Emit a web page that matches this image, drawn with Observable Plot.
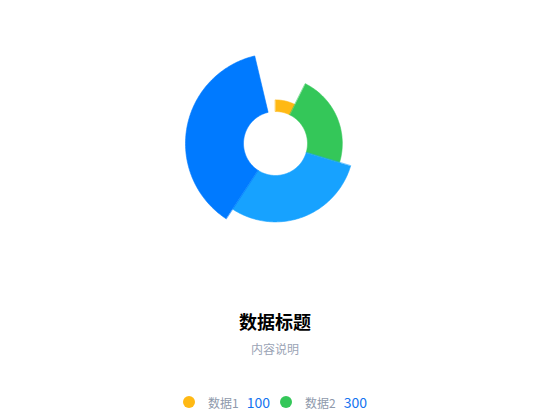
<!DOCTYPE html>
<html><head><meta charset="utf-8">
<script src="https://cdn.jsdelivr.net/npm/d3@7"></script>
<script src="https://cdn.jsdelivr.net/npm/@observablehq/plot@0.6"></script>
<style>
  html, body { margin: 0; padding: 0; background: #fff; }
  body { width: 550px; font-family: "Noto Sans CJK SC", "Noto Sans", sans-serif; }
  #chart svg { display: block; }
  .title { margin-top: 19px; text-align: center; font-size: 18px; line-height: 24px; font-weight: 700; color: #000; }
  .sub { margin-top: 8px; text-align: center; font-size: 12px; line-height: 16px; color: #9AA3B5; }
  #legend { margin-top: 35px; width: 550px; }
  .row { display: flex; width: 550px; justify-content: center; height: 20px; align-items: center; }
  .row.hidden { display: none; }
  .item { display: flex; align-items: center; margin: 0 5px; }
  .dot { width: 12px; height: 12px; border-radius: 50%; margin-right: 13px; }
  .lab { font-size: 12px; color: #8E99AB; margin-right: 8px; }
  .val { font-size: 14px; color: #1473F0; }
</style>
</head><body>
<div id="chart"></div>
<div class="title">数据标题</div>
<div class="sub">内容说明</div>
<div id="legend"></div>
<script>
const names = ["数据1", "数据2", "数据3", "数据4", "数据5"];
const values = [100, 300, 400, 500, 50];
const colors = ["#FFB914", "#34C759", "#17A2FF", "#007AFF", "none"];

const innerR = 32, outerR = 90;
const total = d3.sum(values);
const rScale = d3.scaleLinear([0, d3.max(values)], [innerR, outerR]);

const pts = [];
let acc = 0;
values.forEach((v, i) => {
  const a0 = acc / total * 2 * Math.PI;
  acc += v;
  const a1 = acc / total * 2 * Math.PI;
  if (colors[i] === "none") return;
  const r = rScale(v);
  const n = Math.max(2, Math.ceil((a1 - a0) * 180 / Math.PI));
  for (let k = 0; k <= n; k++) {
    const a = a0 + (a1 - a0) * k / n;
    pts.push({name: names[i], x: r * Math.sin(a), y: r * Math.cos(a)});
  }
  for (let k = n; k >= 0; k--) {
    const a = a0 + (a1 - a0) * k / n;
    pts.push({name: names[i], x: innerR * Math.sin(a), y: innerR * Math.cos(a)});
  }
});

const chart = Plot.plot({
  width: 550, height: 290, margin: 0,
  x: {domain: [-275, 275], axis: null},
  y: {domain: [-147, 143], axis: null},
  color: {domain: names, range: colors},
  marks: [
    Plot.line(pts, {x: "x", y: "y", z: "name", fill: "name", stroke: "name", strokeWidth: 0.6, curve: "linear-closed"})
  ]
});
document.getElementById("chart").appendChild(chart);

// legend: paged, two items per page; only the first page is shown
const legend = document.getElementById("legend");
for (let i = 0; i < names.length; i += 2) {
  const row = document.createElement("div");
  row.className = i === 0 ? "row" : "row hidden";
  for (let j = i; j < Math.min(i + 2, names.length); j++) {
    const it = document.createElement("div");
    it.className = "item";
    it.innerHTML = `<span class="dot" style="background:${colors[j] === "none" ? "#DDE2EA" : colors[j]}"></span><span class="lab">${names[j]}</span><span class="val">${values[j]}</span>`;
    row.appendChild(it);
  }
  legend.appendChild(row);
}
</script>
</body></html>
